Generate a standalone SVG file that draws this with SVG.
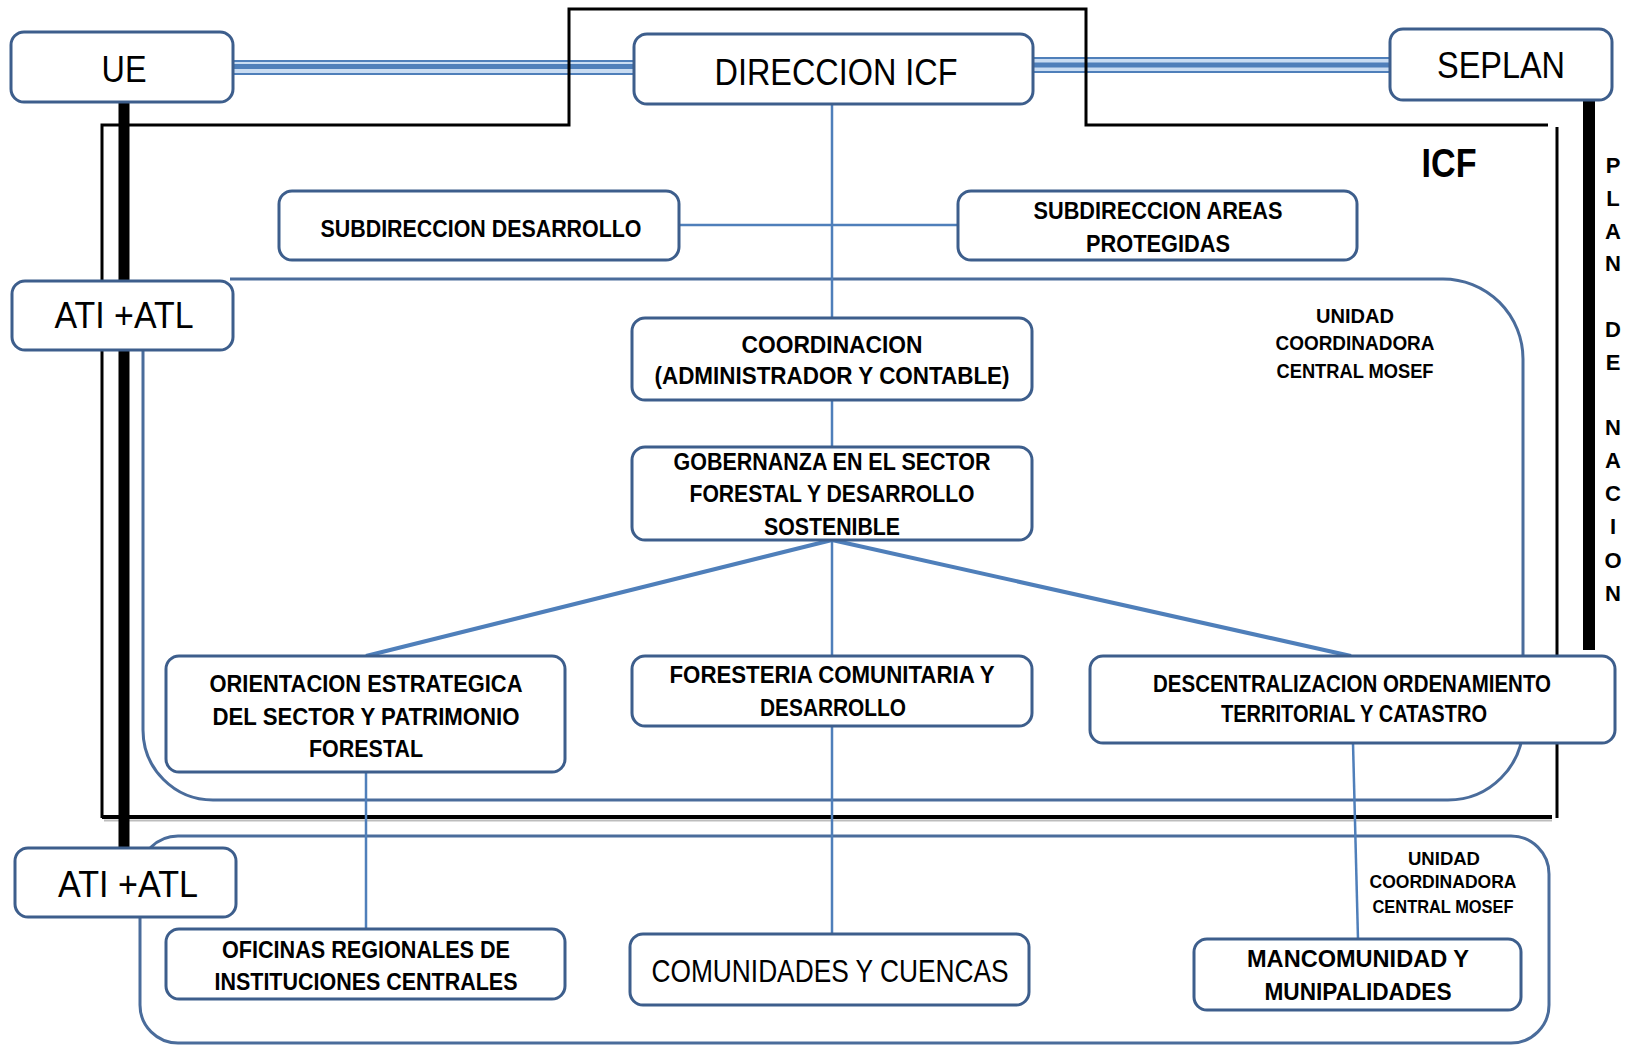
<svg xmlns="http://www.w3.org/2000/svg" width="1629" height="1046" viewBox="0 0 1629 1046">
<style>
.bg{fill:#ffffff}
.box{fill:#ffffff;stroke:#3d5e8c;stroke-width:3}
.unit{fill:none;stroke:#4a6c9b;stroke-width:3}
.blk{fill:none;stroke:#000000;stroke-width:3}
.thick{fill:none;stroke:#000000;stroke-width:12}
.con{fill:none;stroke:#4f7fba;stroke-width:2.5}
.diag{fill:none;stroke:#4f7fba;stroke-width:4}
.band{stroke:#c9dcf2;stroke-width:15}
.dl1{stroke:#4f7fba;stroke-width:2}
.dl2{stroke:#4f7fba;stroke-width:5}
text{font-family:"Liberation Sans",Arial,sans-serif;fill:#000000;text-anchor:middle}
.big{font-size:37px}
.bt{font-size:24px;font-weight:bold}
.ut{font-size:20px;font-weight:bold}
.ut2{font-size:19px;font-weight:bold}
.icf{font-size:40px;font-weight:bold}
.pl{font-size:22px;font-weight:bold}
</style>
<rect class="bg" x="0" y="0" width="1629" height="1046"/>

<g id="connectors">
  <line class="band" x1="233" y1="67.5" x2="634" y2="67.5"/>
  <line class="dl1" x1="233" y1="61" x2="634" y2="61"/>
  <line class="dl2" x1="233" y1="66.5" x2="634" y2="66.5"/>
  <line class="dl1" x1="233" y1="74" x2="634" y2="74"/>
  <line class="band" x1="1033" y1="65" x2="1390" y2="65"/>
  <line class="dl1" x1="1033" y1="58" x2="1390" y2="58"/>
  <line class="dl2" x1="1033" y1="65" x2="1390" y2="65"/>
  <line class="dl1" x1="1033" y1="72" x2="1390" y2="72"/>
</g>

<g id="icf-frame">
  <path class="blk" d="M102,818 V125 H569 V9 H1086 V125 H1548"/>
  <path class="blk" d="M1557,127 V818"/>
  <line x1="104" y1="820.5" x2="1552" y2="820.5" stroke="#bdbdbd" stroke-width="2"/>
  <line x1="102" y1="817" x2="1552" y2="817" stroke="#000000" stroke-width="4"/>
</g>

<g id="unidad-central">
  <path class="unit" d="M230,279 H1443 A80,80 0 0 1 1523,359 V725 A75,75 0 0 1 1448,800 H213 A70,70 0 0 1 143,730 V349"/>
</g>
<g id="unidad-regional">
  <rect class="unit" x="140" y="836" width="1409" height="207" rx="38" ry="38"/>
</g>

<g id="black-links">
  <line class="thick" x1="124" y1="100" x2="124" y2="849" style="stroke-width:11"/>
  <line class="thick" x1="1589" y1="99" x2="1589" y2="650"/>
</g>

<g id="blue-links">
  <line class="con" x1="832" y1="104" x2="832" y2="318"/>
  <line class="con" x1="679" y1="225" x2="958" y2="225"/>
  <line class="con" x1="832" y1="400" x2="832" y2="447"/>
  <line class="diag" x1="832" y1="540" x2="366" y2="656"/>
  <line class="con" x1="832" y1="540" x2="832" y2="656"/>
  <line class="diag" x1="832" y1="540" x2="1351" y2="656"/>
  <line class="con" x1="366" y1="772" x2="366" y2="929"/>
  <line class="con" x1="832" y1="726" x2="832" y2="934"/>
  <line class="con" x1="1353" y1="743" x2="1358" y2="939"/>
</g>

<g id="node-ue">
  <rect class="box" x="11" y="32" width="222" height="70" rx="13"/>
  <text class="big" x="124" y="82" textLength="45" lengthAdjust="spacingAndGlyphs">UE</text>
</g>
<g id="node-direccion">
  <rect class="box" x="634" y="34" width="399" height="70" rx="13"/>
  <text class="big" x="836" y="85" textLength="243" lengthAdjust="spacingAndGlyphs">DIRECCION ICF</text>
</g>
<g id="node-seplan">
  <rect class="box" x="1390" y="29" width="222" height="71" rx="13"/>
  <text class="big" x="1501" y="78" textLength="128" lengthAdjust="spacingAndGlyphs">SEPLAN</text>
</g>
<g id="node-ati1">
  <rect class="box" x="12" y="281" width="221" height="69" rx="13"/>
  <text class="big" x="124" y="328" textLength="139" lengthAdjust="spacingAndGlyphs">ATI +ATL</text>
</g>
<g id="node-ati2">
  <rect class="box" x="15" y="848" width="221" height="69" rx="13"/>
  <text class="big" x="128" y="897" textLength="140" lengthAdjust="spacingAndGlyphs">ATI +ATL</text>
</g>

<g id="label-icf">
  <text class="icf" x="1449" y="177" textLength="55" lengthAdjust="spacingAndGlyphs">ICF</text>
</g>

<g id="label-plan-nacion">
  <text class="pl" x="1613" y="173">P</text>
  <text class="pl" x="1613" y="206">L</text>
  <text class="pl" x="1613" y="239">A</text>
  <text class="pl" x="1613" y="271">N</text>
  <text class="pl" x="1613" y="337">D</text>
  <text class="pl" x="1613" y="370">E</text>
  <text class="pl" x="1613" y="435">N</text>
  <text class="pl" x="1613" y="468">A</text>
  <text class="pl" x="1613" y="501">C</text>
  <text class="pl" x="1613" y="534">I</text>
  <text class="pl" x="1613" y="568">O</text>
  <text class="pl" x="1613" y="601">N</text>
</g>

<g id="node-subdesarrollo">
  <rect class="box" x="279" y="191" width="400" height="69" rx="13"/>
  <text class="bt" x="481" y="237" textLength="321" lengthAdjust="spacingAndGlyphs">SUBDIRECCION DESARROLLO</text>
</g>
<g id="node-subareas">
  <rect class="box" x="958" y="191" width="399" height="69" rx="13"/>
  <text class="bt" x="1158" y="219" textLength="249" lengthAdjust="spacingAndGlyphs">SUBDIRECCION AREAS</text>
  <text class="bt" x="1158" y="252" textLength="144" lengthAdjust="spacingAndGlyphs">PROTEGIDAS</text>
</g>

<g id="label-unidad-central">
  <text class="ut" x="1355" y="323" textLength="78" lengthAdjust="spacingAndGlyphs">UNIDAD</text>
  <text class="ut" x="1355" y="350" textLength="159" lengthAdjust="spacingAndGlyphs">COORDINADORA</text>
  <text class="ut" x="1355" y="378" textLength="157" lengthAdjust="spacingAndGlyphs">CENTRAL MOSEF</text>
</g>

<g id="node-coordinacion">
  <rect class="box" x="632" y="318" width="400" height="82" rx="13"/>
  <text class="bt" x="832" y="353" textLength="181" lengthAdjust="spacingAndGlyphs">COORDINACION</text>
  <text class="bt" x="832" y="384" textLength="355" lengthAdjust="spacingAndGlyphs">(ADMINISTRADOR Y CONTABLE)</text>
</g>
<g id="node-gobernanza">
  <rect class="box" x="632" y="447" width="400" height="93" rx="13"/>
  <text class="bt" x="832" y="470" textLength="317" lengthAdjust="spacingAndGlyphs">GOBERNANZA EN EL SECTOR</text>
  <text class="bt" x="832" y="502" textLength="285" lengthAdjust="spacingAndGlyphs">FORESTAL Y DESARROLLO</text>
  <text class="bt" x="832" y="535" textLength="136" lengthAdjust="spacingAndGlyphs">SOSTENIBLE</text>
</g>
<g id="node-orientacion">
  <rect class="box" x="166" y="656" width="399" height="116" rx="13"/>
  <text class="bt" x="366" y="692" textLength="313" lengthAdjust="spacingAndGlyphs">ORIENTACION ESTRATEGICA</text>
  <text class="bt" x="366" y="725" textLength="307" lengthAdjust="spacingAndGlyphs">DEL SECTOR Y PATRIMONIO</text>
  <text class="bt" x="366" y="757" textLength="114" lengthAdjust="spacingAndGlyphs">FORESTAL</text>
</g>
<g id="node-foresteria">
  <rect class="box" x="632" y="656" width="400" height="70" rx="13"/>
  <text class="bt" x="832" y="683" textLength="325" lengthAdjust="spacingAndGlyphs">FORESTERIA COMUNITARIA Y</text>
  <text class="bt" x="833" y="716" textLength="146" lengthAdjust="spacingAndGlyphs">DESARROLLO</text>
</g>
<g id="node-descentralizacion">
  <rect class="box" x="1090" y="656" width="525" height="87" rx="13"/>
  <text class="bt" x="1352" y="692" textLength="398" lengthAdjust="spacingAndGlyphs">DESCENTRALIZACION ORDENAMIENTO</text>
  <text class="bt" x="1354" y="722" textLength="266" lengthAdjust="spacingAndGlyphs">TERRITORIAL Y CATASTRO</text>
</g>

<g id="label-unidad-regional">
  <text class="ut2" x="1444" y="865" textLength="72" lengthAdjust="spacingAndGlyphs">UNIDAD</text>
  <text class="ut2" x="1443" y="888" textLength="147" lengthAdjust="spacingAndGlyphs">COORDINADORA</text>
  <text class="ut2" x="1443" y="913" textLength="141" lengthAdjust="spacingAndGlyphs">CENTRAL MOSEF</text>
</g>

<g id="node-oficinas">
  <rect class="box" x="166" y="929" width="399" height="70" rx="13"/>
  <text class="bt" x="366" y="958" textLength="288" lengthAdjust="spacingAndGlyphs">OFICINAS REGIONALES DE</text>
  <text class="bt" x="366" y="990" textLength="303" lengthAdjust="spacingAndGlyphs">INSTITUCIONES CENTRALES</text>
</g>
<g id="node-comunidades">
  <rect class="box" x="630" y="934" width="399" height="71" rx="13"/>
  <text x="830" y="982" style="font-size:31px" textLength="357" lengthAdjust="spacingAndGlyphs">COMUNIDADES Y CUENCAS</text>
</g>
<g id="node-mancomunidad">
  <rect class="box" x="1194" y="939" width="327" height="71" rx="13"/>
  <text class="bt" x="1358" y="967" textLength="222" lengthAdjust="spacingAndGlyphs">MANCOMUNIDAD Y</text>
  <text class="bt" x="1358" y="1000" textLength="187" lengthAdjust="spacingAndGlyphs">MUNIPALIDADES</text>
</g>
</svg>
